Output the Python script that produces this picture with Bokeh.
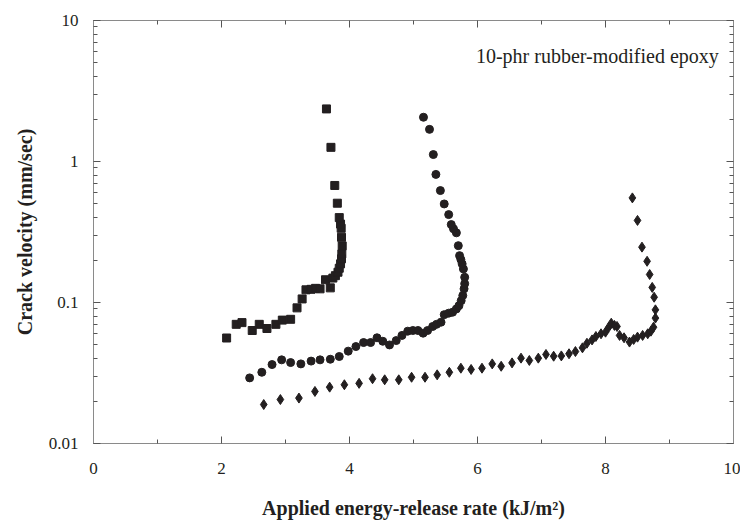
from bokeh.plotting import figure
from bokeh.models import (Range1d, FixedTicker, LinearAxis, LogAxis, Label,
                          CustomJSTickFormatter)
from bokeh.embed import file_html
from bokeh.resources import INLINE

# ---- data ----
sq_x = [2.08, 2.23, 2.32, 2.48, 2.59, 2.71, 2.85, 2.95, 3.08, 3.18, 3.26, 3.32, 3.40,
        3.47, 3.54, 3.70, 3.625, 3.74, 3.78, 3.82, 3.84, 3.86, 3.875, 3.88, 3.886,
        3.875, 3.87, 3.86, 3.84, 3.81, 3.77, 3.71, 3.64]
sq_y = [0.056, 0.070, 0.072, 0.0633, 0.070, 0.0654, 0.070, 0.075, 0.076, 0.0916, 0.106,
        0.123, 0.124, 0.126, 0.125, 0.127, 0.145, 0.149, 0.155, 0.164, 0.175, 0.188,
        0.204, 0.221, 0.252, 0.29, 0.336, 0.36, 0.40, 0.506, 0.676, 1.26, 2.36]

ci_x = [2.44, 2.63, 2.79, 2.94, 3.08, 3.24, 3.40, 3.54, 3.70, 3.84, 3.98, 4.10, 4.22,
        4.33, 4.43, 4.52, 4.625, 4.73, 4.82, 4.91, 4.99, 5.07, 5.15, 5.22, 5.30, 5.36,
        5.43, 5.48, 5.55, 5.61, 5.67, 5.71, 5.745, 5.77, 5.79, 5.80, 5.80, 5.78, 5.76,
        5.74, 5.72, 5.70, 5.67, 5.625, 5.59, 5.55, 5.48, 5.42, 5.35, 5.31, 5.25, 5.156]
ci_y = [0.0292, 0.032, 0.0363, 0.0392, 0.0375, 0.0367, 0.0384, 0.0392, 0.0396, 0.0414,
        0.0452, 0.0487, 0.052, 0.052, 0.0562, 0.0531, 0.050, 0.0537, 0.0584, 0.0626,
        0.0633, 0.0633, 0.0606, 0.0633, 0.0676, 0.070, 0.0725, 0.082, 0.084, 0.0853,
        0.090, 0.095, 0.103, 0.112, 0.125, 0.136, 0.151, 0.173, 0.188, 0.202, 0.215,
        0.253, 0.312, 0.333, 0.357, 0.42, 0.50, 0.622, 0.81, 1.12, 1.69, 2.06]

di_x = [2.66, 2.92, 3.21, 3.46, 3.69, 3.92, 4.15, 4.36, 4.55, 4.77, 4.97, 5.18, 5.37,
        5.56, 5.74, 5.90, 6.07, 6.23, 6.37, 6.54, 6.68, 6.81, 6.95, 7.07, 7.19, 7.31,
        7.43, 7.53, 7.64, 7.71, 7.79, 7.85, 7.93, 8.00, 8.05, 8.09, 8.14, 8.18, 8.22,
        8.29, 8.375, 8.44, 8.50, 8.58, 8.66, 8.71, 8.75, 8.78, 8.78, 8.76, 8.73, 8.69,
        8.65, 8.57, 8.50, 8.42]
di_y = [0.0189, 0.0205, 0.021, 0.0234, 0.0251, 0.0261, 0.0267, 0.0288, 0.0283, 0.0283,
        0.0295, 0.0295, 0.0307, 0.032, 0.0342, 0.0335, 0.0342, 0.0367, 0.0353, 0.0373,
        0.0403, 0.0388, 0.0403, 0.0428, 0.0416, 0.0418, 0.0433, 0.0449, 0.0477, 0.0514,
        0.0543, 0.0574, 0.060, 0.0616, 0.0668, 0.0713, 0.0688, 0.0676, 0.0584, 0.0562,
        0.0524, 0.0547, 0.0568, 0.0584, 0.060, 0.0626, 0.0668, 0.0775, 0.0887, 0.109,
        0.128, 0.158, 0.196, 0.247, 0.382, 0.552]

x_ticks = [0, 2, 4, 6, 8, 10]
x_minor = [1, 3, 5, 7, 9]
y_ticks = [0.01, 0.1, 1, 10]
y_minor = [m * d for d in (0.01, 0.1, 1) for m in range(2, 10)]

annotation = "10-phr rubber-modified epoxy"
x_label = "Applied energy-release rate (kJ/m\u00b2)"
y_label = "Crack velocity (mm/sec)"

FONT = "Liberation Serif"
INK = "#231f20"
AXIS = "#8a8a8a"

p = figure(width=740, height=523, x_range=Range1d(0, 10), y_range=Range1d(0.01, 10),
           y_axis_type="log", output_backend="svg", toolbar_location=None,
           min_border_left=93, min_border_right=7, min_border_top=20, min_border_bottom=80)
p.grid.visible = False
p.outline_line_color = AXIS
p.background_fill_color = "white"
p.border_fill_color = "white"

xt = FixedTicker(ticks=x_ticks, minor_ticks=x_minor)
yt = FixedTicker(ticks=y_ticks, minor_ticks=y_minor)
fmt = CustomJSTickFormatter(code="return String(tick);")
blank = CustomJSTickFormatter(code="return '';")


def style(ax):
    ax.axis_line_color = AXIS
    ax.major_tick_line_color = "#555555"
    ax.minor_tick_line_color = "#555555"
    ax.major_tick_in = 7
    ax.major_tick_out = 0
    ax.minor_tick_in = 4
    ax.minor_tick_out = 0
    ax.major_label_text_font = FONT
    ax.major_label_text_font_size = "17px"
    ax.major_label_text_color = INK
    ax.axis_label_text_font = FONT
    ax.axis_label_text_font_size = "20px"
    ax.axis_label_text_font_style = "bold"
    ax.axis_label_text_color = INK


xa = p.xaxis[0]
xa.ticker = xt
xa.formatter = fmt
style(xa)
xa.major_label_standoff = 19
xa.axis_label = x_label
xa.axis_label_standoff = 20

ya = p.yaxis[0]
ya.ticker = yt
ya.formatter = fmt
style(ya)
ya.major_label_standoff = 15
ya.axis_label = y_label
ya.axis_label_standoff = 10

top = LinearAxis(ticker=xt, formatter=blank)
style(top)
p.add_layout(top, "above")
right = LogAxis(ticker=yt, formatter=blank)
style(right)
p.add_layout(right, "right")

p.scatter(sq_x, sq_y, marker="square", size=8, color=INK)
p.scatter(ci_x, ci_y, marker="circle", size=8, color=INK)
p.scatter(di_x, di_y, marker="diamond", size=10, color=INK)

p.add_layout(Label(x=9.77, y=5.56, text=annotation, text_align="right",
                   text_baseline="alphabetic", text_font=FONT, text_font_size="20px",
                   text_color=INK))

open("out.html", "w").write(file_html(p, INLINE))
